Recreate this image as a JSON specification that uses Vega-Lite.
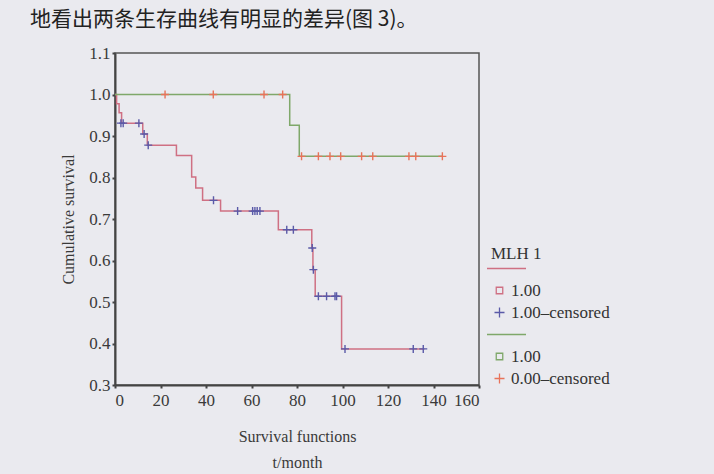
{
  "$schema": "https://vega.github.io/schema/vega-lite/v6.json",
  "width": 364,
  "height": 332,
  "autosize": {"type": "none"},
  "padding": {"left": 115, "top": 53, "right": 235, "bottom": 89},
  "background": "#eaeaef",
  "title": {
    "text": "地看出两条生存曲线有明显的差异(图 3)。",
    "font": "Noto Sans CJK SC",
    "fontSize": 21,
    "fontWeight": "normal",
    "color": "#222222",
    "anchor": "start",
    "frame": "group",
    "baseline": "bottom",
    "offset": -7,
    "dx": -85
  },
  "datasets": {
    "steps": [
      {"key": "g1line", "t": 0, "s": 1.0},
      {"key": "g1line", "t": 0.7, "s": 0.978},
      {"key": "g1line", "t": 1.8, "s": 0.956},
      {"key": "g1line", "t": 2.9, "s": 0.931},
      {"key": "g1line", "t": 12.2, "s": 0.905},
      {"key": "g1line", "t": 14.2, "s": 0.878},
      {"key": "g1line", "t": 27, "s": 0.853},
      {"key": "g1line", "t": 33.7, "s": 0.801},
      {"key": "g1line", "t": 35.5, "s": 0.775},
      {"key": "g1line", "t": 38.5, "s": 0.745},
      {"key": "g1line", "t": 46.4, "s": 0.719},
      {"key": "g1line", "t": 71.8, "s": 0.674},
      {"key": "g1line", "t": 86.5, "s": 0.630},
      {"key": "g1line", "t": 87.0, "s": 0.578},
      {"key": "g1line", "t": 88.0, "s": 0.514},
      {"key": "g1line", "t": 99.6, "s": 0.387},
      {"key": "g1line", "t": 136, "s": 0.387},
      {"key": "g2line", "t": 0, "s": 1.0},
      {"key": "g2line", "t": 76.8, "s": 0.926},
      {"key": "g2line", "t": 81, "s": 0.851},
      {"key": "g2line", "t": 144, "s": 0.851}
    ],
    "censor": [
      {"key": "g1c", "t": 2.6, "s": 0.931},
      {"key": "g1c", "t": 3.6, "s": 0.931},
      {"key": "g1c", "t": 10.5, "s": 0.931},
      {"key": "g1c", "t": 12.8, "s": 0.905},
      {"key": "g1c", "t": 14.6, "s": 0.878},
      {"key": "g1c", "t": 43.3, "s": 0.745},
      {"key": "g1c", "t": 53.9, "s": 0.719},
      {"key": "g1c", "t": 60.5, "s": 0.719},
      {"key": "g1c", "t": 61.5, "s": 0.719},
      {"key": "g1c", "t": 62.5, "s": 0.719},
      {"key": "g1c", "t": 63.7, "s": 0.719},
      {"key": "g1c", "t": 75.5, "s": 0.674},
      {"key": "g1c", "t": 78.4, "s": 0.674},
      {"key": "g1c", "t": 86.7, "s": 0.630},
      {"key": "g1c", "t": 87.2, "s": 0.578},
      {"key": "g1c", "t": 89.4, "s": 0.514},
      {"key": "g1c", "t": 93.0, "s": 0.514},
      {"key": "g1c", "t": 96.7, "s": 0.514},
      {"key": "g1c", "t": 97.4, "s": 0.514},
      {"key": "g1c", "t": 101.1, "s": 0.387},
      {"key": "g1c", "t": 131.1, "s": 0.387},
      {"key": "g1c", "t": 135.5, "s": 0.387},
      {"key": "g2c", "t": 22, "s": 1.0},
      {"key": "g2c", "t": 43.2, "s": 1.0},
      {"key": "g2c", "t": 65.5, "s": 1.0},
      {"key": "g2c", "t": 73.7, "s": 1.0},
      {"key": "g2c", "t": 82, "s": 0.851},
      {"key": "g2c", "t": 89.4, "s": 0.851},
      {"key": "g2c", "t": 94.5, "s": 0.851},
      {"key": "g2c", "t": 99.2, "s": 0.851},
      {"key": "g2c", "t": 108.4, "s": 0.851},
      {"key": "g2c", "t": 113.3, "s": 0.851},
      {"key": "g2c", "t": 129.2, "s": 0.851},
      {"key": "g2c", "t": 132.2, "s": 0.851},
      {"key": "g2c", "t": 143.9, "s": 0.851}
    ]
  },
  "encoding": {
    "x": {
      "field": "t",
      "type": "quantitative",
      "scale": {"domain": [0, 160], "nice": false, "zero": false},
      "axis": {
        "values": [0, 20, 40, 60, 80, 100, 120, 140, 160],
        "title": ["Survival functions", "t/month"],
        "titleLineHeight": 26,
        "titlePadding": 20,
        "labelPadding": 4
      }
    },
    "y": {
      "field": "s",
      "type": "quantitative",
      "scale": {"domain": [0.3, 1.1], "nice": false, "zero": false},
      "axis": {
        "values": [0.3, 0.4, 0.5, 0.6, 0.7, 0.8, 0.9, 1.0, 1.1],
        "format": ".1f",
        "title": "Cumulative survival",
        "titlePadding": 12,
        "labelPadding": 2
      }
    }
  },
  "layer": [
    {
      "data": {"name": "steps"},
      "transform": [{"filter": "datum.key == 'g1line'"}],
      "mark": {"type": "line", "interpolate": "step-after", "strokeWidth": 1.5, "color": "#cf7083"},
      "encoding": {}
    },
    {
      "data": {"name": "steps"},
      "transform": [{"filter": "datum.key == 'g2line'"}],
      "mark": {"type": "line", "interpolate": "step-after", "strokeWidth": 1.5, "color": "#7fa86a"},
      "encoding": {}
    },
    {
      "data": {"name": "censor"},
      "mark": {"type": "point", "filled": false, "size": 64, "strokeWidth": 1.4, "opacity": 1},
      "encoding": {
        "color": {
          "field": "key",
          "type": "nominal",
          "scale": {
            "domain": ["g1line", "g1", "g1c", "g2line", "g2", "g2c"],
            "range": ["#cf7083", "#cf7083", "#5a5aa8", "#7fa86a", "#7fa86a", "#e8735a"]
          },
          "legend": {
            "title": "MLH 1",
            "orient": "none",
            "legendX": 376,
            "legendY": 193,
            "labelExpr": "datum.value == 'g1' || datum.value == 'g2' ? '1.00' : datum.value == 'g1c' ? '1.00–censored' : datum.value == 'g2c' ? '0.00–censored' : ''"
          }
        },
        "shape": {
          "field": "key",
          "type": "nominal",
          "scale": {
            "domain": ["g1line", "g1", "g1c", "g2line", "g2", "g2c"],
            "range": ["M-2.5,0H5.3", "M-0.65,-0.65H0.65V0.65H-0.65Z", "M-1,0H1M0,-1V1", "M-2.5,0H5.3", "M-0.65,-0.65H0.65V0.65H-0.65Z", "M-1,0H1M0,-1V1"]
          },
          "legend": {
            "title": "MLH 1",
            "orient": "none",
            "legendX": 376,
            "legendY": 193,
            "labelExpr": "datum.value == 'g1' || datum.value == 'g2' ? '1.00' : datum.value == 'g1c' ? '1.00–censored' : datum.value == 'g2c' ? '0.00–censored' : ''"
          }
        }
      }
    }
  ],
  "config": {
    "view": {"stroke": "#555555", "strokeWidth": 1.5},
    "axis": {
      "grid": false,
      "domainColor": "#444444",
      "domainWidth": 2,
      "tickColor": "#444444",
      "tickWidth": 2,
      "tickSize": 3,
      "labelFont": "Liberation Serif",
      "labelFontSize": 17,
      "labelColor": "#3a3a3a",
      "titleFont": "Liberation Serif",
      "titleFontSize": 16,
      "titleFontWeight": "normal",
      "titleColor": "#3a3a3a"
    },
    "legend": {
      "titleFont": "Liberation Serif",
      "titleFontSize": 17,
      "titleFontWeight": "normal",
      "titleColor": "#333333",
      "titlePadding": -3,
      "labelFont": "Liberation Serif",
      "labelFontSize": 17,
      "labelColor": "#333333",
      "labelOffset": 3,
      "rowPadding": 4,
      "symbolStrokeWidth": 1.3
    }
  }
}
